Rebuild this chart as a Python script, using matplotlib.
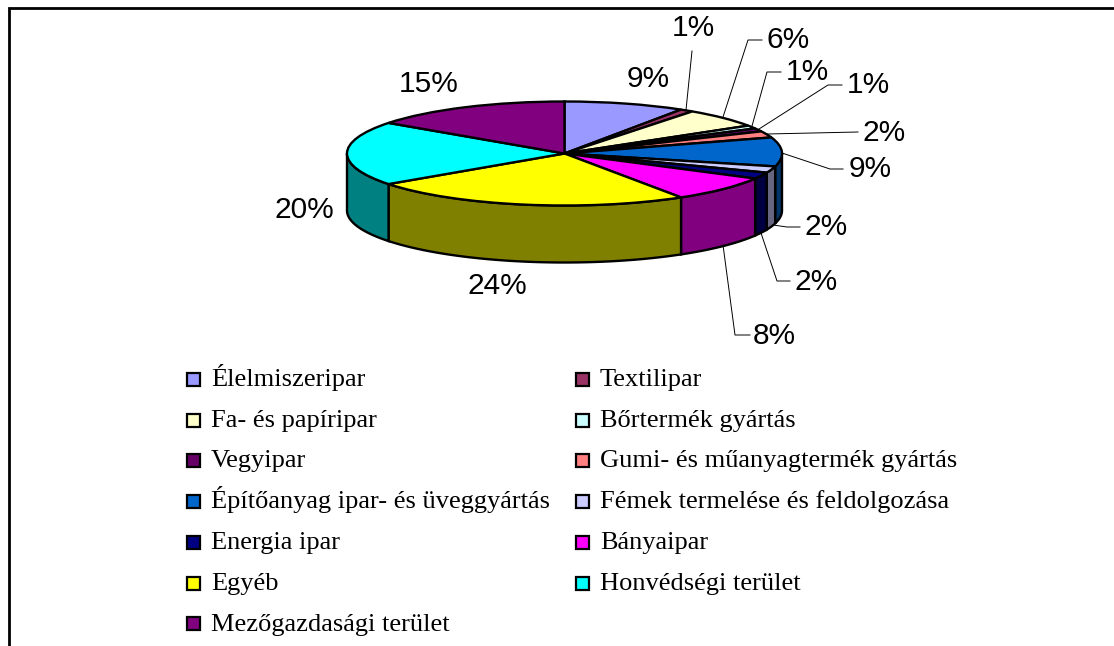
import numpy as np
import matplotlib

matplotlib.use("Agg")
import matplotlib.pyplot as plt
from matplotlib.patches import Rectangle

W, H = 1114, 646

categories = [
    "Élelmiszeripar", "Textilipar", "Fa- és papíripar", "Bőrtermék gyártás",
    "Vegyipar", "Gumi- és műanyagtermék gyártás",
    "Építőanyag ipar- és üveggyártás", "Fémek termelése és feldolgozása",
    "Energia ipar", "Bányaipar", "Egyéb", "Honvédségi terület",
    "Mezőgazdasági terület",
]
shares = [9, 1, 6, 1, 1, 2, 9, 2, 2, 8, 24, 20, 15]
colors = [
    "#9999FF", "#993366", "#FFFFCC", "#CCFFFF", "#660066", "#FF8080", "#0066CC",
    "#CCCCFF", "#000080", "#FF00FF", "#FFFF00", "#00FFFF", "#800080",
]

# label centre in pixels, and the leader line for the ones that have one
label_pos = [
    (648, 79), (693, 28), (788, 40), (807, 72), (868, 85), (884, 133), (870, 169),
    (826, 227), (816, 282), (774, 336), (497, 286), (304, 210), (429, 84),
]
leaders = [
    None,
    [(692, 51), (686, 110)],
    [(762, 40), (748, 40), (723, 117)],
    [(781, 72), (767, 72), (752, 126)],
    [(842, 85), (828, 85), (759, 129)],
    [(858, 132), (767, 134)],
    [(843, 169), (830, 169), (782, 153)],
    [(800, 227), (787, 227), (773, 225)],
    [(790, 281), (777, 281), (761, 233)],
    [(750, 335), (735, 335), (723, 245)],
    None, None, None,
]

# pie geometry in pixels
cx, cy, rx, ry, depth = 564.5, 153.5, 217.5, 52.0, 57.0
EDGE = 1.7

fig = plt.figure(figsize=(W / 100, H / 100), dpi=100, facecolor="white")

# pie axes: one data unit is the radius, so the circle gets squashed
ax = fig.add_axes([0, 0, 1, 1])
ax.pie(shares, colors=colors, startangle=90, counterclock=False, radius=1,
       wedgeprops={"edgecolor": "black", "linewidth": EDGE, "zorder": 3})
ax.set_aspect("auto")
ax.set_xlim(-cx / rx, (W - cx) / rx)
ax.set_ylim((cy - H) / ry, cy / ry)

# side wall, only the part of each slice facing the viewer
ends = np.cumsum(shares) / sum(shares) * 360
starts = np.r_[0, ends[:-1]]
for start, end, color in zip(starts, ends, colors):
    lo, hi = max(start, 90), min(end, 270)
    if lo >= hi:
        continue
    t = np.radians(np.linspace(lo, hi, 60))
    x, y = np.sin(t), np.cos(t)
    wall = tuple(0.5 * c for c in matplotlib.colors.to_rgb(color))
    ax.fill(np.r_[x, x[::-1]], np.r_[y, y[::-1] - depth / ry], facecolor=wall,
            edgecolor="black", linewidth=EDGE, zorder=2)

# overlay in pixel coordinates for frame, labels and legend
over = fig.add_axes([0, 0, 1, 1], facecolor="none")
over.set_xlim(0, W)
over.set_ylim(H, 0)
over.axis("off")
over.plot([8.5, 8.5, W], [H, 7.5, 7.5], color="black", linewidth=2.0,
          solid_joinstyle="miter")

for share, (lx, ly), leader in zip(shares, label_pos, leaders):
    over.text(lx, ly, f"{share}%", ha="center", va="center", fontsize=21.5,
              family="Liberation Sans", color="black")
    if leader:
        over.plot(*zip(*leader), color="black", linewidth=0.7)

# legend, two columns read row by row
for i, (name, color) in enumerate(zip(categories, colors)):
    row, col = i // 2, i % 2
    left = 186.5 + col * 389
    mid = 379.3 + row * 40.75
    over.add_patch(Rectangle((left, mid - 6.5), 13, 13, facecolor=color,
                             edgecolor="black", linewidth=1.6))
    over.text(left + 24.5, mid + 6.7, name, ha="left", va="baseline", fontsize=19,
              family="Liberation Serif", color="black")

fig.savefig("out.png", dpi=100)
plt.close(fig)
